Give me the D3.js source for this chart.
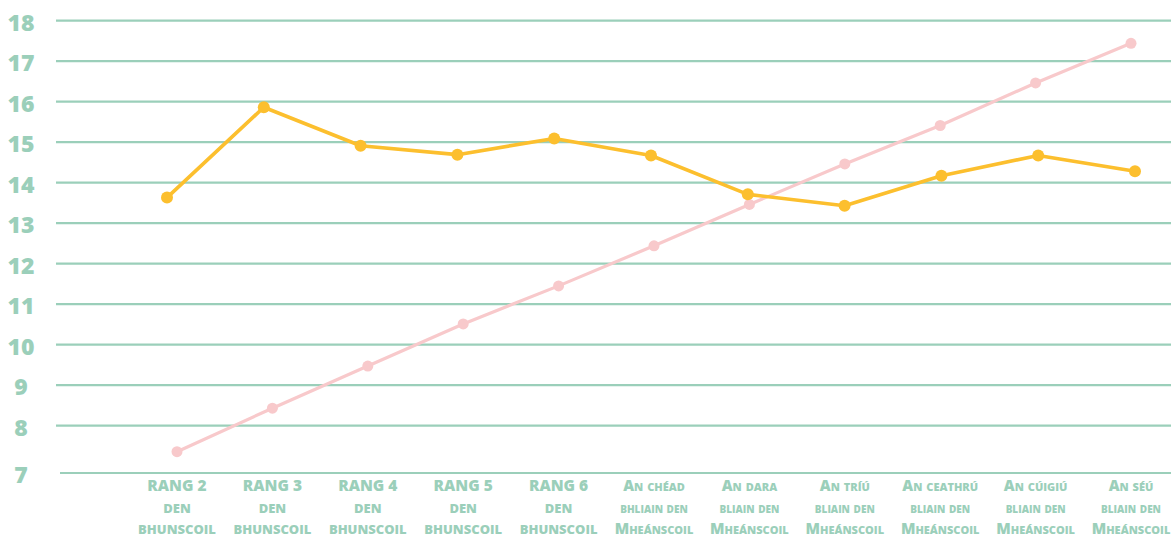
<!DOCTYPE html>
<html>
<head>
<meta charset="utf-8">
<script src="https://cdn.jsdelivr.net/npm/d3@7"></script>
<style>
  html, body { margin: 0; padding: 0; background: #fff; }
  svg { display: block; }
  text { font-family: "Open Sans", sans-serif; font-weight: 800; fill: #9bcfba; }
</style>
</head>
<body>
<svg id="chart" width="1171" height="538"></svg>
<script>
// ---- data ----
const categories = [
  "Rang 2 den Bhunscoil", "Rang 3 den Bhunscoil", "Rang 4 den Bhunscoil",
  "Rang 5 den Bhunscoil", "Rang 6 den Bhunscoil",
  "An chéad bhliain den Mheánscoil", "An dara bliain den Mheánscoil",
  "An tríú bliain den Mheánscoil", "An ceathrú bliain den Mheánscoil",
  "An cúigiú bliain den Mheánscoil", "An séú bliain den Mheánscoil"
];
const labelLine1 = ["RANG 2", "RANG 3", "RANG 4", "RANG 5", "RANG 6",
  "An chéad", "An dara", "An tríú", "An ceathrú", "An cúigiú", "An séú"];
const labelLine2 = ["DEN", "DEN", "DEN", "DEN", "DEN",
  "bhliain den", "bliain den", "bliain den", "bliain den", "bliain den", "bliain den"];
const labelLine3 = ["BHUNSCOIL", "BHUNSCOIL", "BHUNSCOIL", "BHUNSCOIL", "BHUNSCOIL",
  "Mheánscoil", "Mheánscoil", "Mheánscoil", "Mheánscoil", "Mheánscoil", "Mheánscoil"];
const seriesOrange = [13.63, 15.86, 14.91, 14.69, 15.09, 14.67, 13.71, 13.43, 14.17, 14.67, 14.28];
const seriesPink   = [7.45, 8.43, 9.47, 10.51, 11.45, 12.44, 13.46, 14.46, 15.41, 16.46, 17.44];
const yTicks = [7, 8, 9, 10, 11, 12, 13, 14, 15, 16, 17, 18];

// ---- layout ----
const svg = d3.select("#chart");
const grid = "#9bcfba";
const y = d3.scaleLinear().domain([7, 8, 18]).range([473, 425.6, 20.6]);
const xPink = d3.scalePoint().domain(categories).range([177, 1131]);
const xOrange = d3.scalePoint().domain(categories).range([167, 1135]);

// gridlines
svg.append("g").selectAll("line").data(yTicks).join("line")
  .attr("x1", d => d === 7 ? 60 : 56)
  .attr("x2", 1171)
  .attr("y1", d => y(d)).attr("y2", d => y(d))
  .attr("stroke", grid).attr("stroke-width", 2.2);

// y tick labels
svg.append("g").selectAll("text").data(yTicks).join("text")
  .attr("x", 21).attr("y", d => y(d))
  .attr("dy", "0.44em")
  .attr("text-anchor", "middle")
  .style("font-size", "23px")
  .text(d => d);

// x labels
const lab = svg.append("g");
categories.forEach((c, i) => {
  const cx = xPink(c);
  const primary = i < 5;
  const t1 = lab.append("text").attr("x", cx).attr("y", 491).attr("text-anchor", "middle");
  const t2 = lab.append("text").attr("x", cx).attr("y", 513).attr("text-anchor", "middle");
  const t3 = lab.append("text").attr("x", cx).attr("y", 534).attr("text-anchor", "middle");
  if (primary) {
    t1.style("font-size", "15.5px").text(labelLine1[i]);
    t2.style("font-size", "13px").text(labelLine2[i]);
    t3.style("font-size", "13px").text(labelLine3[i]);
  } else {
    t1.style("font-size", "15px").style("font-variant", "small-caps").text(labelLine1[i]);
    t2.style("font-size", "14px").style("font-variant", "small-caps").text(labelLine2[i]);
    t3.style("font-size", "15px").style("font-variant", "small-caps").text(labelLine3[i]);
  }
});

// lines
function drawSeries(vals, xs, color, width, r) {
  const line = d3.line().x((d, i) => xs(categories[i])).y(d => y(d));
  svg.append("path").datum(vals).attr("d", line)
    .attr("fill", "none").attr("stroke", color).attr("stroke-width", width)
    .attr("stroke-linejoin", "round");
  svg.append("g").selectAll("circle").data(vals).join("circle")
    .attr("cx", (d, i) => xs(categories[i])).attr("cy", d => y(d))
    .attr("r", r).attr("fill", color);
}
drawSeries(seriesPink, xPink, "#f8c9cb", 3.2, 5.5);
drawSeries(seriesOrange, xOrange, "#fcbf2e", 3.6, 6);
</script>
</body>
</html>
